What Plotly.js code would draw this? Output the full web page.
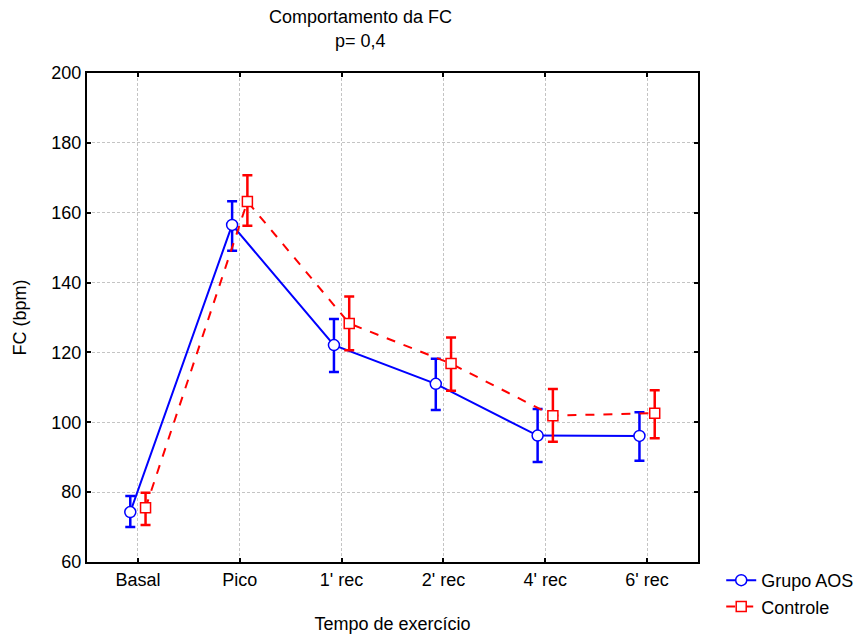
<!DOCTYPE html>
<html>
<head>
<meta charset="utf-8">
<script src="https://cdn.plot.ly/plotly-3.0.1.min.js"></script>
<style>html,body{margin:0;padding:0;background:#fff;}#chart{width:856px;height:634px;}</style>
</head>
<body>
<div id="chart"></div>
<script>
const categories = ["Basal", "Pico", "1' rec", "2' rec", "4' rec", "6' rec"];

const aosMean  = [74.3, 156.5, 122.1, 111.0, 96.2, 96.1];
const aosUpper = [78.9, 163.3, 129.6, 118.2, 103.8, 102.9];
const aosLower = [70.0, 149.1, 114.4, 103.5, 88.6, 89.0];

const ctrlMean  = [75.5, 163.2, 128.3, 116.8, 101.9, 102.6];
const ctrlUpper = [79.8, 170.7, 136.0, 124.3, 109.5, 109.2];
const ctrlLower = [70.6, 156.3, 120.6, 109.0, 94.4, 95.4];

const yTicks = [60, 80, 100, 120, 140, 160, 180, 200];

const titleLine1 = "Comportamento da FC";
const titleLine2 = "p= 0,4";

const idx = categories.map((c, i) => i);
const off = 0.075;
const font = "Liberation Sans, Arial, sans-serif";
const fs = 18;

const traces = [
  {
    name: "Grupo AOS",
    x: idx.map(i => i - off),
    y: aosMean,
    type: "scatter",
    mode: "lines+markers",
    line: {color: "#0000ff", width: 2},
    marker: {symbol: "circle", size: 11, color: "#ffffff", line: {color: "#0000ff", width: 1.5}},
    error_y: {
      type: "data", symmetric: false,
      array: aosUpper.map((u, i) => u - aosMean[i]),
      arrayminus: aosMean.map((m, i) => m - aosLower[i]),
      color: "#0000ff", thickness: 2.5, width: 5
    }
  },
  {
    name: "Controle",
    x: idx.map(i => i + off),
    y: ctrlMean,
    type: "scatter",
    mode: "lines+markers",
    line: {color: "#ff0000", width: 2, dash: "dash"},
    marker: {symbol: "square", size: 10, color: "#ffffff", line: {color: "#ff0000", width: 1.5}},
    error_y: {
      type: "data", symmetric: false,
      array: ctrlUpper.map((u, i) => u - ctrlMean[i]),
      arrayminus: ctrlMean.map((m, i) => m - ctrlLower[i]),
      color: "#ff0000", thickness: 2.5, width: 5
    }
  }
];

const layout = {
  width: 856, height: 634,
  margin: {l: 87, r: 158, t: 73, b: 72, pad: 0, autoexpand: false},
  paper_bgcolor: "#ffffff",
  plot_bgcolor: "#ffffff",
  font: {family: font, size: fs, color: "#000000"},
  annotations: [
    {text: titleLine1, xref: "paper", yref: "paper", x: 0.447, y: 1.1145, xanchor: "center", yanchor: "middle",
     showarrow: false, font: {family: font, size: fs}},
    {text: titleLine2, xref: "paper", yref: "paper", x: 0.447, y: 1.0654, xanchor: "center", yanchor: "middle",
     showarrow: false, font: {family: font, size: fs}}
  ],
  xaxis: {
    range: [-0.5, 5.5],
    tickvals: idx,
    ticktext: categories,
    showline: true, linecolor: "#000000", linewidth: 2, mirror: "allticks",
    ticks: "inside", ticklen: 4, tickwidth: 2, tickcolor: "#000000",
    showgrid: true, gridcolor: "#c4c4c4", gridwidth: 1, griddash: "3px,2px",
    zeroline: false,
    tickfont: {family: font, size: fs},
    title: {text: "Tempo de exercício", font: {family: font, size: fs}, standoff: 30}
  },
  yaxis: {
    range: [60, 200],
    tickvals: yTicks,
    showline: true, linecolor: "#000000", linewidth: 2, mirror: "allticks",
    ticks: "inside", ticklen: 4, tickwidth: 2, tickcolor: "#000000",
    showgrid: true, gridcolor: "#c4c4c4", gridwidth: 1, griddash: "3px,2px",
    zeroline: false,
    tickfont: {family: font, size: fs},
    title: {text: "FC (bpm)", font: {family: font, size: fs}, standoff: 20}
  },
  showlegend: true,
  legend: {
    x: 1.038, xanchor: "left",
    y: 0.0, yanchor: "top",
    bgcolor: "rgba(0,0,0,0)",
    font: {family: font, size: fs},
    tracegroupgap: 0,
    itemwidth: 30
  }
};

Plotly.newPlot("chart", traces, layout, {displayModeBar: false, staticPlot: true});
</script>
</body>
</html>
